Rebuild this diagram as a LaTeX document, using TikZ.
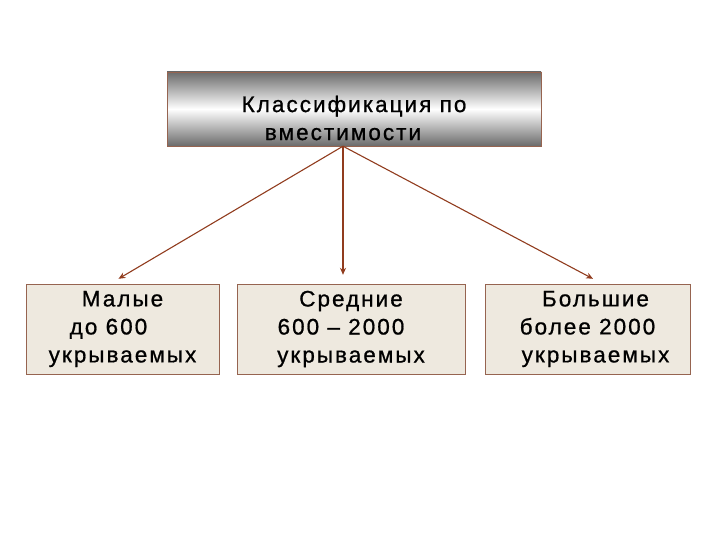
\documentclass[tikz,border=0pt]{standalone}
\usepackage{fontspec}
\setmainfont{Liberation Sans}[LetterSpace=9, FakeBold=0.8]
\usetikzlibrary{positioning,fit,calc,arrows.meta}

\begin{document}
\begin{tikzpicture}[x=1pt, y=-1pt, >={Stealth[length=7pt,width=6pt]}]
		\definecolor{mbrown}{RGB}{145,60,30}
		\definecolor{mframe}{RGB}{150,100,80}
		\definecolor{mbeige}{RGB}{238,233,223}
		\fontsize{22.5}{28}\selectfont
		\useasboundingbox (0,0) rectangle (720,540);

		% Classification
		\node[draw=mframe, fit={(167,72) (541,146)},
			inner sep=0pt,
			top color=black!58, bottom color=black!58, middle color=white,
			label={[align=center,yshift=-9pt]center:{Классификация по\\вместимости\kern22pt}}
			] (cls) {};

		% Capacity groups
		\node[draw=mframe, fit={(26,284) (219,374)},
			inner sep=0pt,
			fill=mbeige,
			label={[align=center]center:{Малые\\до 600\kern28pt\\укрываемых}}
			] (small) {};
		\node[draw=mframe, fit={(237,284) (465,374)},
			inner sep=0pt,
			fill=mbeige,
			label={[align=center]center:{Средние\\600 – 2000\kern20pt\\укрываемых}}
			] (medium) {};
		\node[draw=mframe, fit={(485,284) (690,374)},
			inner sep=0pt,
			fill=mbeige,
			label={[align=center,xshift=8pt]center:{Большие\\более 2000\kern16pt\\укрываемых}}
			] (large) {};

		% Edges
		\coordinate (root) at ($(cls.south)+(-11,0)$);
		\draw[->, mbrown, line width=1.1pt] (root) -- ($(small.north)+(-4,-5)$);
		\draw[->, mbrown, line width=1.1pt] (root) -- ($(medium.north)+(-8,-9)$);
		\draw[->, mbrown, line width=1.1pt] (root) -- ($(large.north)+(5.5,-5)$);
	\end{tikzpicture}
\end{document}
